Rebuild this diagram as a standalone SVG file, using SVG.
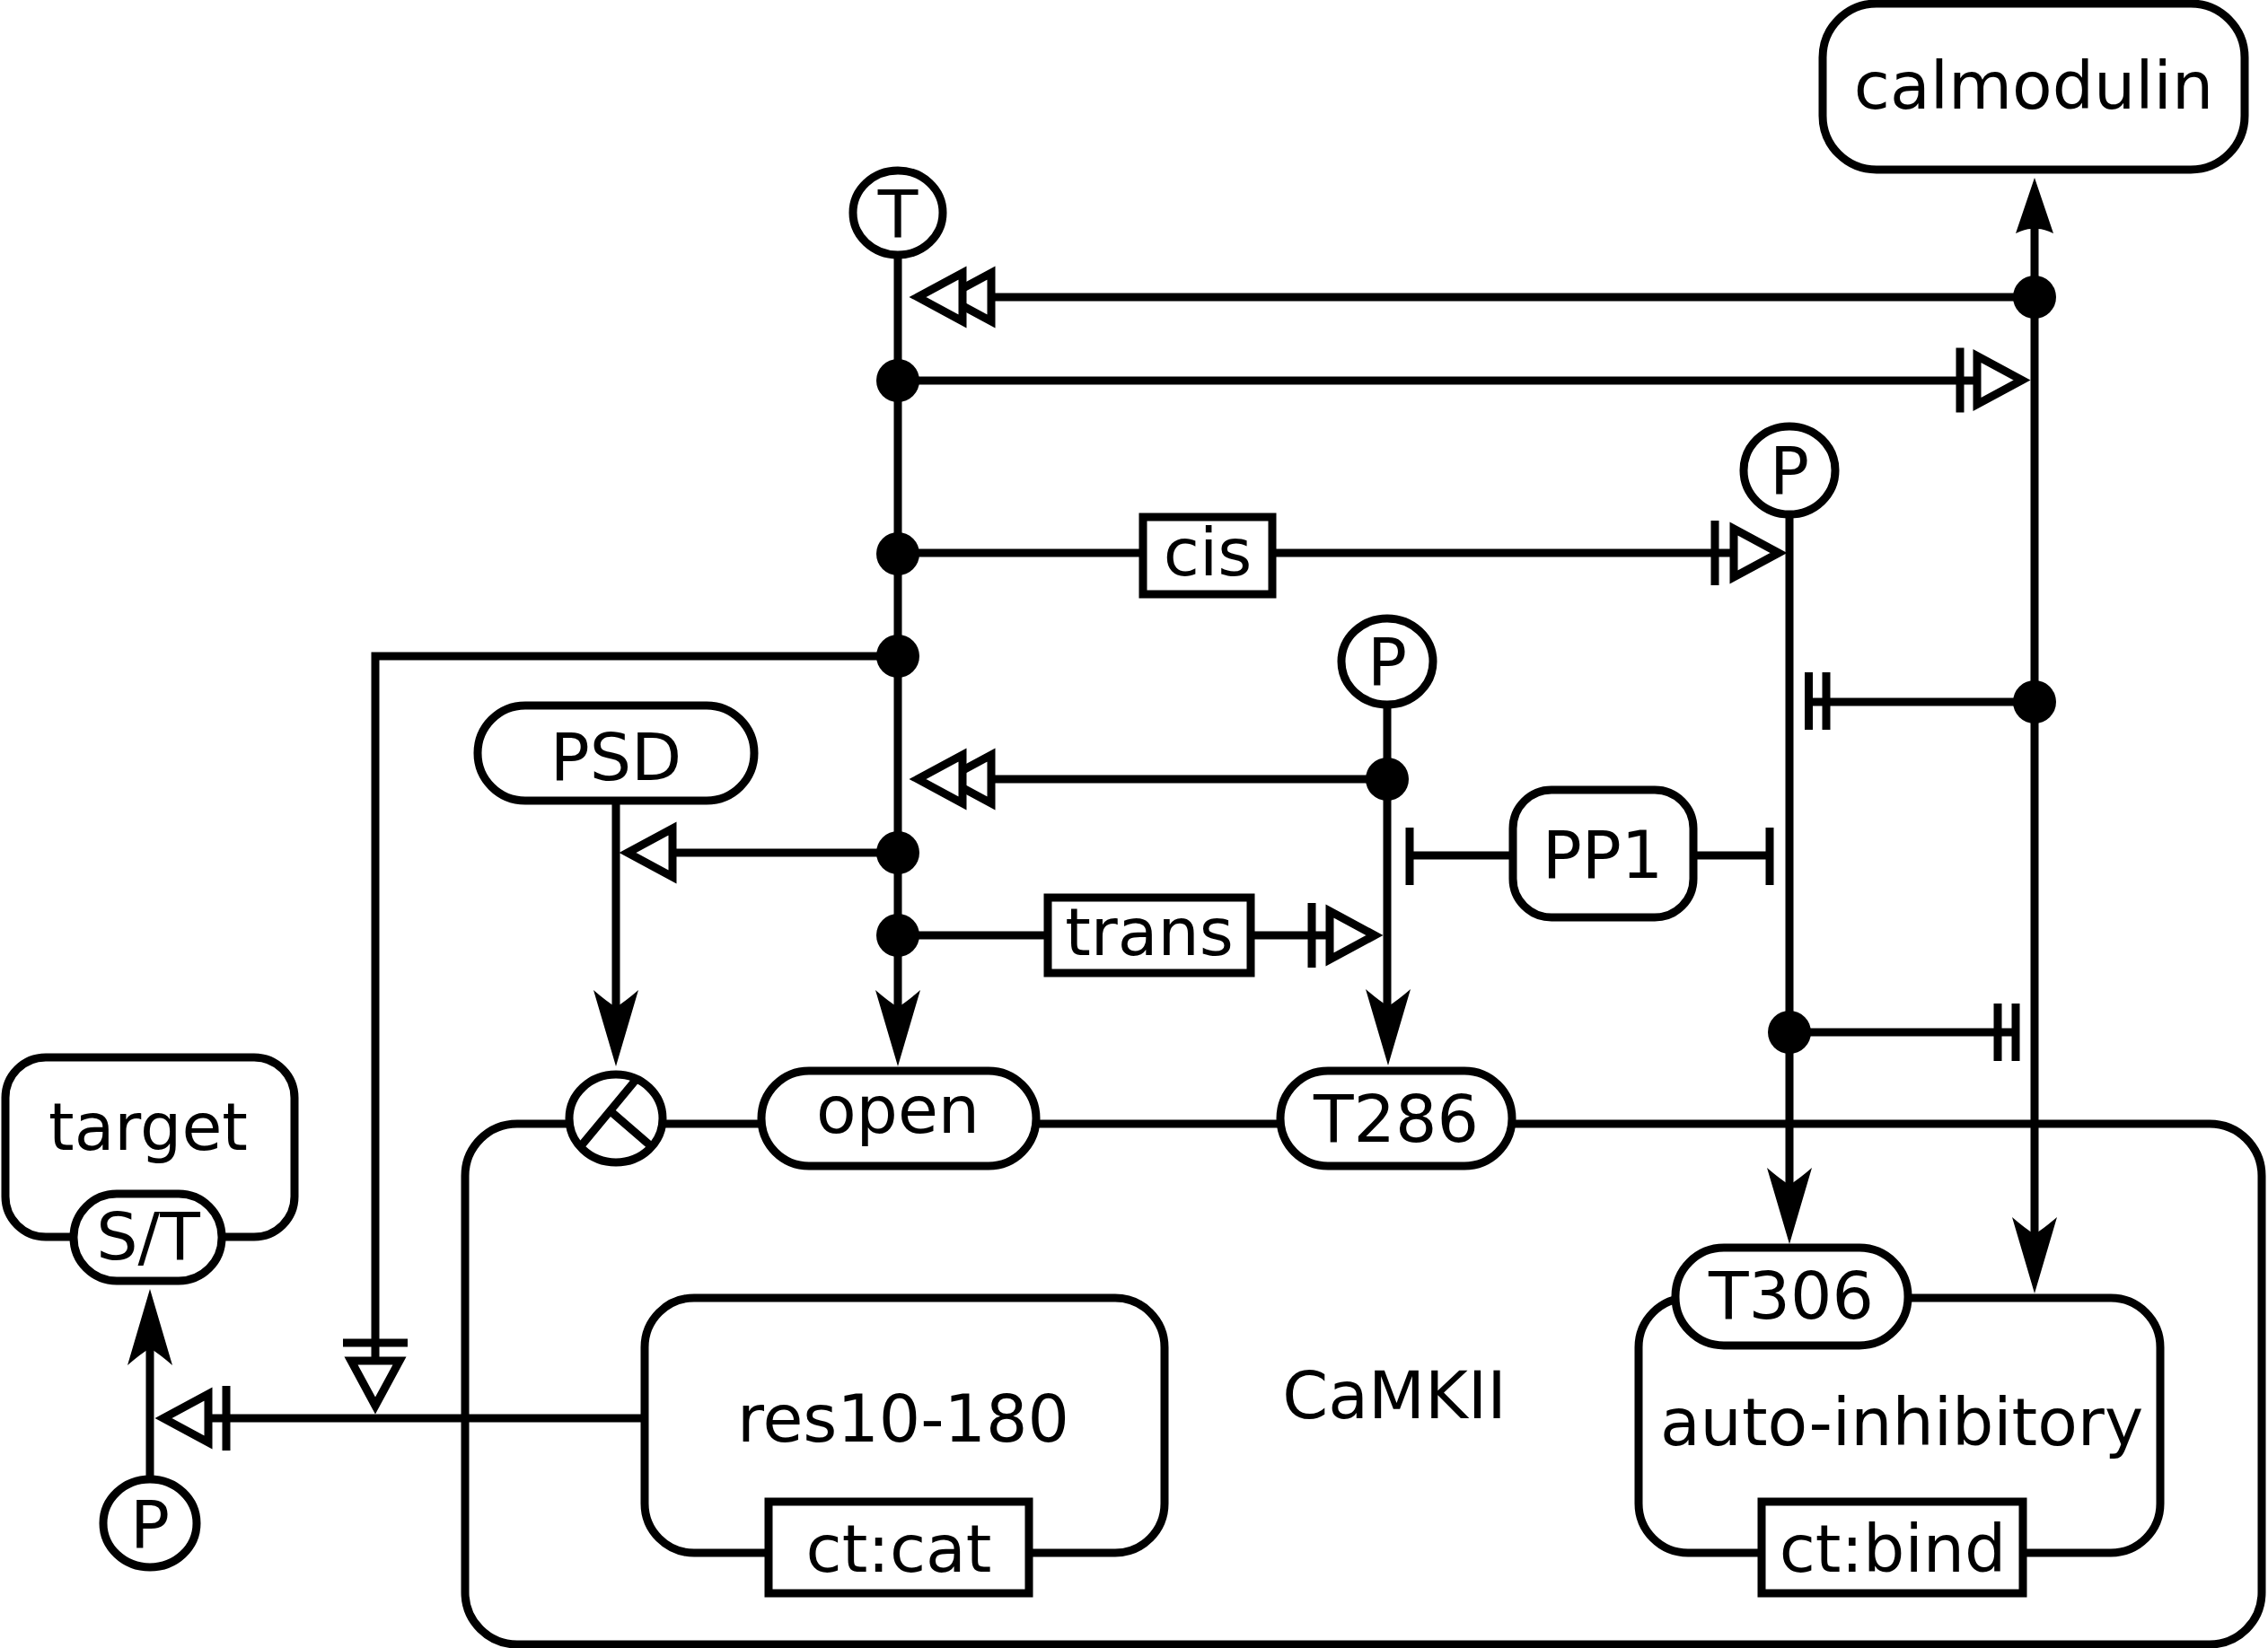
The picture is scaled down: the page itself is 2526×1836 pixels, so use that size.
<svg xmlns="http://www.w3.org/2000/svg" xmlns:xlink="http://www.w3.org/1999/xlink" width="2526" height="1836" viewBox="0 0 2526 1836">
<style>
.s{fill:none;stroke:#000;stroke-width:9}
.n{fill:#fff;stroke:#000;stroke-width:9}
.d{fill:#000;stroke:none}
.t{font-family:"DejaVu Sans","Liberation Sans",sans-serif;font-size:73px;text-anchor:middle;fill:#000}
</style>
<defs>
<path id="ahd" class="d" d="M0,0 L-25,-85 Q-10,-72 0,-66 Q10,-72 25,-85 Z"/>
<polygon id="tri" class="n" points="0,0 50,-27 50,27"/>
<g id="dtri"><use xlink:href="#tri" href="#tri" x="32"/><use xlink:href="#tri" href="#tri"/></g>
<line id="bar" class="s" x1="0" y1="-36" x2="0" y2="36"/>
<line id="sbar" class="s" x1="0" y1="-32" x2="0" y2="32"/>
<circle id="dot" class="d" r="24"/>
</defs>
<rect width="2526" height="1836" fill="#fff"/>

<g id="CaMKII">
<rect class="n" x="518" y="1252" width="2001" height="580" rx="58"/>
<text class="t" x="1553" y="1580">CaMKII</text>
</g>

<g id="connectors">
<path class="s" d="M1000,284 V1130"/>
<path class="s" d="M2266,250 V1380"/>
<path class="s" d="M1993,573 V1330"/>
<path class="s" d="M1545,786 V1130"/>
<path class="s" d="M686,892 V1130"/>
<path class="s" d="M167,1648 V1500"/>
<path class="s" d="M1000,424 H2203"/>
<path class="s" d="M1000,616 H1931"/>
<path class="s" d="M2266,331 H1105"/>
<path class="s" d="M1545,868 H1105"/>
<path class="s" d="M1000,731 H418 V1516"/>
<path class="s" d="M1000,950 H748"/>
<path class="s" d="M1000,1042 H1481"/>
<path class="s" d="M2266,782 H2014"/>
<path class="s" d="M1993,1150 H2245"/>
<path class="s" d="M1685,953 H1570"/>
<path class="s" d="M1886,953 H1971"/>
<path class="s" d="M718,1580 H232"/>
<use xlink:href="#ahd" href="#ahd" transform="translate(1000,1188)"/>
<use xlink:href="#ahd" href="#ahd" transform="translate(686,1188)"/>
<use xlink:href="#ahd" href="#ahd" transform="translate(1546,1187)"/>
<use xlink:href="#ahd" href="#ahd" transform="translate(1993,1386)"/>
<use xlink:href="#ahd" href="#ahd" transform="translate(2266,1441)"/>
<use xlink:href="#ahd" href="#ahd" transform="translate(167,1436) rotate(180)"/>
<path class="d" d="M2266,198 L2245,260 Q2256,255 2262,255 L2270,255 Q2276,255 2287,260 Z"/>
<use xlink:href="#bar" href="#bar" transform="translate(2183,423.5)"/>
<use xlink:href="#tri" href="#tri" transform="translate(2252,423.5) rotate(180)"/>
<use xlink:href="#bar" href="#bar" transform="translate(1910,616)"/>
<use xlink:href="#tri" href="#tri" transform="translate(1981,616) rotate(180)"/>
<use xlink:href="#bar" href="#bar" transform="translate(1461,1042)"/>
<use xlink:href="#tri" href="#tri" transform="translate(1531,1042) rotate(180)"/>
<use xlink:href="#bar" href="#bar" transform="translate(252,1580)"/>
<use xlink:href="#tri" href="#tri" transform="translate(182,1580)"/>
<use xlink:href="#bar" href="#bar" transform="translate(418,1496) rotate(90)"/>
<use xlink:href="#tri" href="#tri" transform="translate(418,1566) rotate(-90)"/>
<use xlink:href="#tri" href="#tri" transform="translate(699,950)"/>
<use xlink:href="#dtri" href="#dtri" transform="translate(1022,331)"/>
<use xlink:href="#dtri" href="#dtri" transform="translate(1022,868)"/>
<use xlink:href="#sbar" href="#sbar" transform="translate(2014.5,781)"/>
<use xlink:href="#sbar" href="#sbar" transform="translate(2034,781)"/>
<use xlink:href="#sbar" href="#sbar" transform="translate(2225,1150)"/>
<use xlink:href="#sbar" href="#sbar" transform="translate(2245,1150)"/>
<use xlink:href="#sbar" href="#sbar" transform="translate(1570,954)"/>
<use xlink:href="#sbar" href="#sbar" transform="translate(1971,954)"/>
<use xlink:href="#dot" href="#dot" x="1000" y="424"/>
<use xlink:href="#dot" href="#dot" x="1000" y="617"/>
<use xlink:href="#dot" href="#dot" x="1000" y="731"/>
<use xlink:href="#dot" href="#dot" x="1000" y="950"/>
<use xlink:href="#dot" href="#dot" x="1000" y="1042"/>
<use xlink:href="#dot" href="#dot" x="2266" y="331"/>
<use xlink:href="#dot" href="#dot" x="2266" y="782"/>
<use xlink:href="#dot" href="#dot" x="1545" y="868"/>
<use xlink:href="#dot" href="#dot" x="1993" y="1150"/>
<g id="cis">
<rect class="n" x="1273" y="576" width="144" height="86"/>
<text class="t" x="1345" y="641">cis</text>
</g>
<g id="trans">
<rect class="n" x="1167" y="1000" width="226" height="84"/>
<text class="t" x="1280" y="1064">trans</text>
</g>
</g>

<g id="calmodulin">
<rect class="n" x="2030" y="4" width="470" height="185" rx="60"/>
<text class="t" x="2265" y="121">calmodulin</text>
</g>
<g id="site-T">
<ellipse class="n" cx="1000" cy="237" rx="50" ry="47"/>
<text class="t" x="1000" y="264">T</text>
</g>
<g id="site-P1">
<ellipse class="n" cx="1993" cy="524" rx="51" ry="49"/>
<text class="t" x="1993" y="550">P</text>
</g>
<g id="site-P2">
<ellipse class="n" cx="1545" cy="737" rx="51" ry="48"/>
<text class="t" x="1545" y="763">P</text>
</g>
<g id="site-P3">
<ellipse class="n" cx="167" cy="1697" rx="52" ry="49"/>
<text class="t" x="167" y="1724">P</text>
</g>
<g id="PSD">
<rect class="n" x="532" y="786" width="308" height="106" rx="53"/>
<text class="t" x="686" y="869">PSD</text>
</g>
<g id="PP1">
<rect class="n" x="1685" y="880" width="201" height="142" rx="43"/>
<text class="t" x="1785" y="978">PP1</text>
</g>
<g id="target">
<rect class="n" x="6" y="1178" width="322" height="200" rx="45"/>
<text class="t" x="165" y="1281">target</text>
<g id="ST">
<rect class="n" x="82" y="1330" width="165" height="97" rx="48"/>
<text class="t" x="165" y="1403">S/T</text>
</g>
</g>
<g id="cleavage">
<ellipse class="n" cx="686" cy="1246" rx="52" ry="49"/>
<path class="s" d="M646,1278 L709,1202 M680,1238 L724,1276"/>
</g>
<g id="open">
<rect class="n" x="848" y="1193" width="306" height="106" rx="53"/>
<text class="t" x="1000" y="1262">open</text>
</g>
<g id="T286">
<rect class="n" x="1426" y="1193" width="258" height="106" rx="53"/>
<text class="t" x="1555" y="1272">T286</text>
</g>
<g id="res10-180">
<rect class="n" x="718" y="1446" width="579" height="284" rx="55"/>
<text class="t" x="1006" y="1606">res10-180</text>
<g id="ct-cat">
<rect class="n" x="856" y="1673" width="290" height="102"/>
<text class="t" x="1001" y="1751">ct:cat</text>
</g>
</g>
<g id="auto-inhibitory">
<rect class="n" x="1825" y="1446" width="581" height="284" rx="55"/>
<text class="t" x="2118" y="1610">auto-inhibitory</text>
<g id="ct-bind">
<rect class="n" x="1962" y="1673" width="291" height="102"/>
<text class="t" x="2108" y="1751">ct:bind</text>
</g>
<g id="T306">
<rect class="n" x="1866" y="1390" width="259" height="109" rx="54"/>
<text class="t" x="1995" y="1469">T306</text>
</g>
</g>
</svg>
